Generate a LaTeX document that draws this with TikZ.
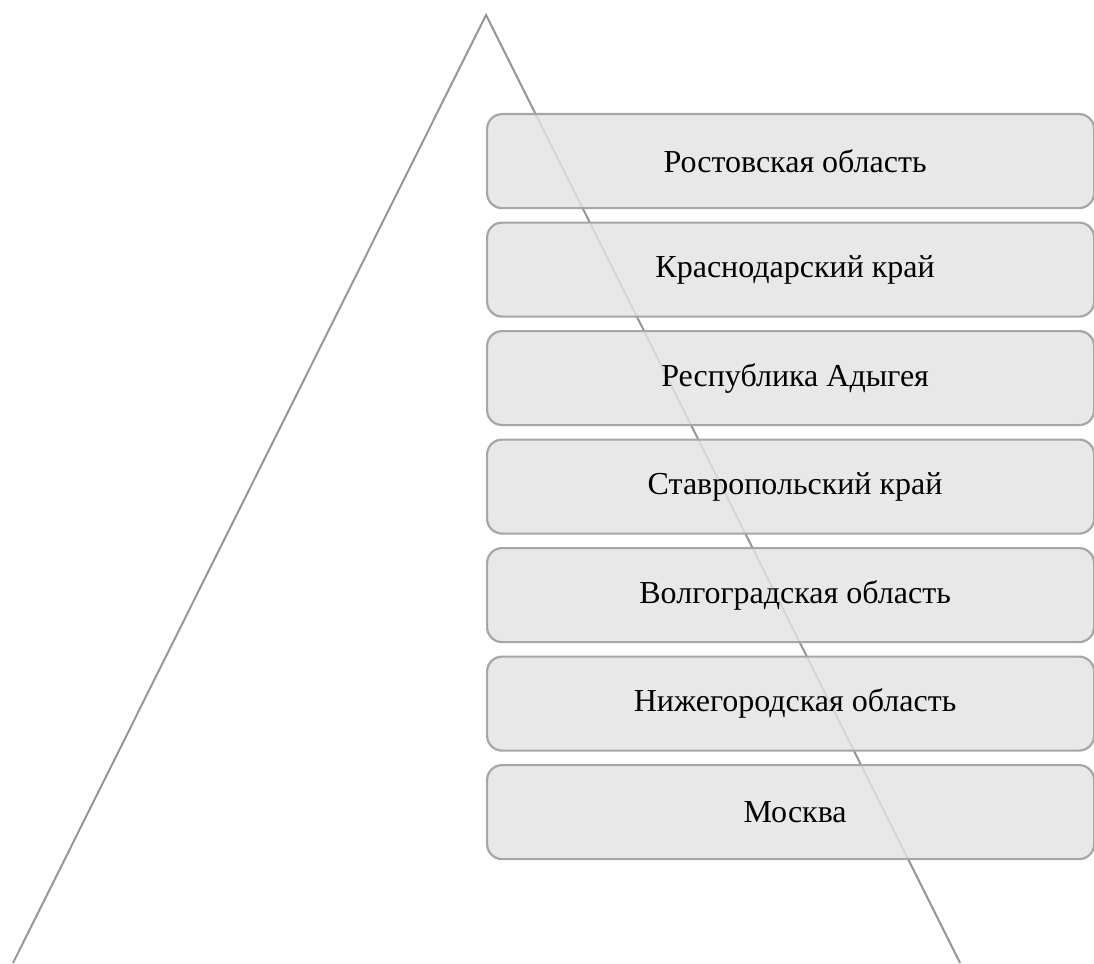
\documentclass[tikz,border=0pt]{standalone}
\usepackage{fontspec}
\setmainfont{Liberation Serif}
\definecolor{edgegray}{HTML}{969696}
\definecolor{boxedge}{HTML}{A6A6A6}
\definecolor{boxfill}{HTML}{E3E3E3}
\tikzset{
  region/.style={draw=boxedge, line width=2.2pt, fill=boxfill, fill opacity=0.82, text opacity=1,
    rounded corners=15pt, minimum width=607pt, minimum height=94pt, anchor=north west,
    inner sep=0pt, font=\fontsize{32}{36}\selectfont, execute at begin node={\hspace*{9pt}}},
  tri/.style={draw=edgegray, line width=2pt}
}
\begin{document}
\begin{tikzpicture}[x=1pt,y=-1pt]
\useasboundingbox (0,0) rectangle (1094,963);
\coordinate (apex) at (486,15);
\coordinate (bl) at (13,963);
\coordinate (br) at (960,963);
\draw[tri] (bl) -- (apex) -- (br);
\node[region] (r1) at (486,113) {Ростовская область};
\node[region] (r2) at (486,221.5) {Краснодарский край};
\node[region] (r3) at (486,330) {Республика Адыгея};
\node[region] (r4) at (486,438.5) {Ставропольский край};
\node[region] (r5) at (486,547) {Волгоградская область};
\node[region] (r6) at (486,655.5) {Нижегородская область};
\node[region] (r7) at (486,764) {Москва};
\end{tikzpicture}
\end{document}
